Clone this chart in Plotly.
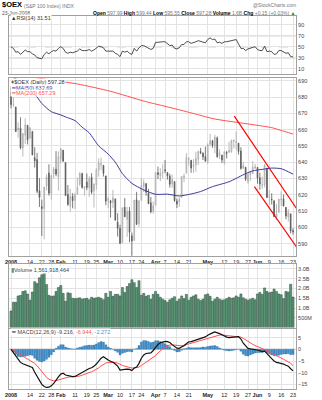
import plotly.graph_objects as go
import pandas as pd

FONT = "Liberation Sans, Arial, sans-serif"
W, H = 322, 400
L_PX, R_PX = 9, 296

# ---------------- data ----------------
holidays = ["2008-01-21", "2008-02-18", "2008-03-21", "2008-05-26"]
dates = [d.strftime("%Y-%m-%d") for d in pd.bdate_range("2008-01-02", "2008-06-23")
         if d.strftime("%Y-%m-%d") not in holidays]

tick_dates = ["2008-01-02", "2008-01-14", "2008-01-22", "2008-01-28", "2008-02-01", "2008-02-11",
              "2008-02-19", "2008-02-25", "2008-03-03", "2008-03-10", "2008-03-17", "2008-03-24",
              "2008-04-01", "2008-04-07", "2008-04-14", "2008-04-21", "2008-05-01", "2008-05-12",
              "2008-05-19", "2008-05-27", "2008-06-02", "2008-06-09", "2008-06-16", "2008-06-23"]
tick_text = ["<b>2008</b>", "14", "22", "28", "<b>Feb</b>", "11", "19", "25", "<b>Mar</b>", "10", "17", "24",
             "<b>Apr</b>", "7", "14", "21", "<b>May</b>", "12", "19", "27", "<b>Jun</b>", "9", "16", "23"]

open_ = [685.1, 675.3, 673.9, 659.9, 660.9, 648.7, 656.6, 662.7, 654.7, 658.9, 642.8, 641.6, 622.5, 612.7, 611.6, 625.4, 633.4, 621.0, 632.8, 635.7, 631.0,
         642.0, 647.4, 639.8, 620.2, 613.0, 619.0, 616.6, 620.7, 626.5, 633.0, 623.9, 627.8, 624.3, 630.7, 622.4, 626.3, 635.1, 638.4, 638.1, 631.6,
         616.7, 616.3, 615.4, 617.5, 603.2, 599.4, 590.7, 612.3, 605.0, 610.0, 594.8, 592.0, 616.9, 602.4, 616.6, 625.3, 626.9, 621.2, 615.1, 609.9,
         613.5, 633.6, 631.6, 633.6, 635.3, 633.7, 631.5, 626.7, 628.1, 616.1, 615.9, 618.4, 630.6, 633.2, 641.8, 641.2, 637.5, 638.5, 641.9, 646.6, 645.5, 643.4,
         640.3, 651.1, 653.2, 649.4, 654.9, 644.2, 644.4, 639.8, 646.0, 646.0, 646.5, 652.9, 652.1, 651.7, 646.9, 636.3, 636.9, 628.1, 632.2, 633.4, 636.3,
         636.8, 630.5, 625.8, 626.2, 636.4, 618.4, 617.4, 616.4, 606.6, 609.2, 616.8, 617.5, 612.3, 606.4, 608.3, 597.99]
high = [686.9, 679.9, 673.9, 664.5, 667.5, 657.7, 666.9, 662.7, 661.7, 658.9, 649.2, 645.7, 630.2, 617.0, 624.9, 632.5, 638.7, 631.9, 637.0, 646.8, 646.6,
        648.6, 647.4, 639.8, 626.0, 623.7, 621.0, 621.1, 630.6, 633.9, 633.5, 625.0, 633.1, 631.4, 633.3, 627.0, 636.3, 642.3, 642.8, 638.1, 631.6,
        618.8, 616.9, 623.0, 617.5, 608.7, 601.6, 612.1, 618.0, 612.6, 612.5, 596.8, 616.8, 621.8, 616.8, 630.2, 629.4, 626.9, 623.7, 618.7, 615.8,
        633.7, 637.3, 636.3, 638.7, 641.4, 633.7, 632.9, 632.3, 628.1, 617.7, 618.7, 631.5, 633.0, 645.6, 643.0, 641.2, 641.9, 646.4, 647.1, 648.8, 646.1, 649.6,
        651.5, 657.3, 653.7, 656.8, 655.8, 647.9, 644.4, 646.6, 646.9, 652.6, 653.8, 653.7, 658.9, 651.7, 649.2, 640.1, 636.9, 633.4, 634.3, 640.6, 639.0,
        636.8, 633.6, 631.2, 638.8, 636.4, 622.8, 620.9, 616.4, 614.4, 617.4, 622.1, 620.2, 612.3, 611.3, 608.3, 599.44]
low = [673.0, 673.8, 658.6, 655.0, 647.9, 643.5, 651.2, 650.9, 654.7, 644.3, 636.7, 621.0, 612.5, 594.7, 592.7, 622.7, 619.5, 617.1, 630.2, 631.4, 622.6,
       639.2, 640.2, 619.5, 613.2, 609.7, 611.7, 611.3, 620.1, 625.4, 623.8, 619.5, 622.8, 618.8, 620.4, 612.2, 623.2, 631.2, 635.2, 631.2, 613.6,
       611.8, 606.0, 611.9, 604.1, 594.4, 589.9, 590.7, 606.2, 594.2, 590.9, 582.6, 592.0, 601.8, 600.3, 616.6, 621.6, 619.4, 614.5, 608.6, 608.5,
       613.5, 629.7, 628.4, 630.3, 633.2, 629.3, 624.4, 624.4, 615.7, 611.9, 612.5, 618.4, 627.8, 633.2, 637.9, 633.5, 633.5, 634.1, 638.2, 644.9, 641.3, 640.2,
       639.0, 649.7, 648.8, 645.5, 642.7, 641.9, 639.5, 638.4, 642.3, 646.0, 645.8, 648.5, 647.6, 644.7, 635.4, 636.0, 628.5, 626.8, 628.5, 632.5, 636.1,
       626.8, 623.1, 623.7, 624.5, 618.1, 613.7, 614.0, 606.6, 604.5, 609.1, 613.1, 612.9, 605.0, 603.5, 596.3, 595.55]
close = [675.4, 675.4, 658.8, 660.9, 648.8, 657.6, 662.8, 653.8, 661.0, 644.5, 640.9, 622.2, 618.5, 611.6, 624.7, 631.0, 621.0, 631.9, 635.8, 632.7, 643.4,
         648.3, 640.7, 619.5, 614.2, 619.0, 616.4, 620.0, 624.5, 633.0, 624.5, 625.0, 624.5, 629.7, 621.6, 626.5, 635.1, 639.5, 638.9, 633.2, 616.1,
         617.1, 615.0, 618.2, 604.5, 599.5, 590.2, 612.1, 606.6, 609.7, 597.0, 591.7, 616.8, 601.8, 616.2, 625.7, 627.1, 621.6, 614.5, 609.6, 613.1,
         633.7, 632.5, 633.3, 633.8, 634.8, 631.5, 626.5, 629.3, 616.4, 614.3, 617.2, 631.2, 631.6, 643.0, 642.0, 636.4, 638.2, 642.3, 646.5, 645.8, 643.3, 640.8,
         651.1, 653.2, 650.3, 655.3, 643.4, 645.7, 641.4, 646.4, 645.4, 647.3, 653.4, 653.5, 652.7, 646.6, 636.2, 637.9, 629.5, 632.4, 634.2, 636.9, 637.2,
         630.4, 626.6, 626.2, 638.3, 618.4, 618.8, 617.1, 606.6, 608.4, 617.4, 617.4, 613.1, 607.0, 609.1, 597.8, 597.28]

ma50_day = [0, 3, 6, 9, 11, 13, 17, 21, 23, 27, 30, 33, 37, 41, 44, 47, 51, 56, 61, 66, 71, 76, 80, 85, 92, 99, 102, 106, 110, 114, 119]
ma50_val = [692.5, 690.5, 687.5, 683.5, 680.0, 676.0, 671.0, 669.0, 667.8, 665.5, 661.5, 658.0, 650.0, 645.0, 640.0, 633.0, 627.0, 623.0,
            620.3, 620.4, 619.3, 620.5, 622.0, 625.0, 628.0, 633.0, 634.7, 635.6, 636.4, 636.0, 632.69]
ma200_day = [0, 12, 28, 42, 56, 63, 70, 78, 86, 96, 106, 110, 114, 119]
ma200_val = [694.5, 691.5, 688.0, 683.5, 677.5, 675.0, 672.5, 669.5, 666.5, 664.3, 662.2, 661.2, 659.5, 657.29]

trend_upper_day = [94.2, 121.2]
trend_upper_val = [668.3, 610.0]
trend_lower_day = [102.7, 121.2]
trend_lower_val = [625.0, 586.5]

rsi = [50, 47, 40, 41, 36, 41, 44, 41, 41, 37, 35, 30, 29, 28, 36, 40, 37, 41, 43, 42, 47,
       50, 47, 40, 38, 40, 39, 41, 42, 46, 43, 43, 43, 45, 42, 44, 48, 51, 50, 48, 42,
       42, 41, 42, 38, 36, 32, 42, 40, 42, 38, 36, 47, 42, 48, 52, 52, 50, 47, 45, 47,
       58, 58, 59, 59, 59, 56, 52, 53, 47, 46, 48, 54, 54, 59, 59, 56, 57, 59, 61, 60, 59, 57,
       63, 66, 63, 64, 57, 58, 56, 59, 59, 60, 62, 63, 63, 55, 47, 47, 43, 46, 47, 49, 50,
       45, 43, 43, 51, 41, 42, 41, 36, 37, 43, 43, 41, 38, 39, 32, 31.51]
rsi_levels = [30, 50, 70]

volume_b = [0.85, 1.30, 1.30, 1.62, 1.65, 1.85, 1.88, 1.72, 1.40, 1.82, 2.35, 2.25, 2.55, 2.70, 2.82, 2.20, 1.65, 1.60, 1.62, 1.85, 2.05,
            2.15, 1.75, 1.35, 1.78, 1.75, 1.50, 1.48, 1.50, 1.52, 1.45, 1.48, 1.50, 1.42, 1.55, 1.50, 1.52, 1.55, 1.50, 1.42, 1.75,
            1.55, 1.85, 1.60, 1.70, 1.70, 1.62, 2.05, 1.80, 2.10, 2.25, 2.45, 2.30, 2.05, 2.40, 1.65, 1.75, 1.60, 1.65, 1.45, 1.70,
            1.85, 1.70, 1.55, 1.45, 1.38, 1.30, 1.42, 1.50, 1.58, 1.35, 1.45, 1.62, 1.48, 1.70, 1.40, 1.55, 1.62, 1.68, 1.45, 1.38, 1.45, 1.68,
            1.72, 1.60, 1.35, 1.45, 1.55, 1.45, 1.40, 1.42, 1.48, 1.55, 1.50, 1.52, 1.62, 1.55, 1.72, 1.52, 1.45, 1.40, 1.45, 1.50, 1.42,
            1.72, 1.80, 1.70, 2.03, 1.85, 1.78, 1.82, 1.97, 1.85, 1.72, 1.68, 1.48, 1.85, 1.82, 2.22, 1.56]
vol_ticks = [0.5, 1.0, 1.5, 2.0, 2.5, 3.0]
vol_tick_text = ["500M", "1.0B", "1.5B", "2.0B", "2.5B", "3.0B"]

macd = [0.0, -1.4, -3.0, -4.6, -5.6, -6.2, -6.6, -6.9, -7.1, -7.8, -9.8, -11.7, -13.4, -15.0, -15.9, -16.3, -16.2, -15.6, -14.6, -13.0, -11.8,
        -10.6, -10.2, -11.0, -11.3, -11.5, -11.7, -11.6, -11.0, -10.5, -10.0, -9.3, -8.8, -8.2, -7.9, -7.3, -6.3, -5.0, -3.8, -3.2, -4.0,
        -4.6, -5.1, -5.5, -6.3, -7.2, -8.9, -8.6, -8.6, -8.5, -8.6, -9.1, -8.0, -7.6, -6.0, -3.8, -2.4, -1.8, -1.6, -1.5, -0.5,
        1.0, 2.1, 2.8, 3.2, 3.4, 3.3, 2.9, 2.0, 1.3, 0.5, 0.4, 0.9, 1.6, 2.4, 3.2, 3.3, 3.6, 3.9, 4.2, 4.6, 5.1, 5.3,
        6.0, 6.6, 7.0, 7.4, 7.2, 6.7, 6.2, 5.6, 5.2, 5.0, 5.0, 5.1, 5.3, 5.4, 4.4, 2.6, 1.3, 0.4, 0.2, 0.1, 0.0,
        -0.3, -0.6, -1.0, -0.8, -2.0, -2.9, -4.0, -5.0, -5.6, -5.8, -6.0, -6.3, -6.8, -7.2, -8.3, -9.216]
signal = [0.0, -0.3, -0.8, -1.5, -2.3, -3.0, -3.6, -4.2, -4.7, -5.2, -6.0, -7.0, -8.2, -9.6, -10.9, -12.0, -12.8, -13.3, -13.5, -13.4, -13.1,
          -12.6, -12.2, -12.0, -11.9, -11.8, -11.8, -11.7, -11.6, -11.4, -11.1, -10.8, -10.4, -10.0, -9.6, -9.1, -8.6, -7.9, -7.1, -6.3, -5.9,
          -5.6, -5.5, -5.5, -5.6, -5.9, -6.5, -6.9, -7.2, -7.5, -7.7, -8.0, -8.0, -7.9, -7.6, -6.9, -6.2, -5.5, -4.9, -4.4, -3.6,
          -2.7, -1.6, -0.5, 0.3, 1.0, 1.5, 1.8, 1.9, 1.8, 1.6, 1.4, 1.3, 1.4, 2.0, 2.3, 2.6, 2.9, 3.2, 3.5, 3.8, 4.1, 4.4,
          4.8, 5.2, 5.5, 5.8, 6.0, 6.1, 6.1, 6.0, 5.8, 5.7, 5.6, 5.5, 5.5, 5.4, 5.2, 4.7, 4.0, 3.3, 2.6, 2.1, 1.6,
          1.2, 0.8, 0.4, 0.0, -0.5, -1.0, -1.6, -2.2, -2.8, -3.3, -3.8, -4.3, -4.8, -5.3, -6.0, -6.944]
hist = [0.0, -1.1, -2.2, -3.1, -3.3, -3.2, -3.0, -2.7, -2.4, -2.6, -3.8, -4.7, -5.2, -5.4, -5.0, -4.3, -3.4, -2.3, -1.1, 0.4, 1.3,
        2.0, 2.0, 1.0, 0.6, 0.3, 0.1, 0.1, 0.6, 0.9, 1.1, 1.5, 1.6, 1.8, 1.7, 1.8, 2.3, 2.9, 3.3, 3.1, 1.9,
        1.0, 0.4, 0.0, -0.7, -1.3, -2.4, -1.7, -1.4, -1.0, -0.9, -1.1, 0.0, 0.3, 1.6, 3.1, 3.8, 3.7, 3.3, 2.9, 3.1,
        3.7, 3.7, 3.3, 2.9, 2.4, 1.8, 1.1, 0.1, -0.5, -1.1, -1.0, -0.4, 0.2, 0.4, 0.9, 0.7, 0.7, 0.7, 0.7, 0.8, 1.0, 0.9,
        1.2, 1.4, 1.5, 1.6, 1.2, 0.6, 0.1, -0.4, -0.6, -0.7, -0.6, -0.4, -0.2, 0.0, -0.8, -2.1, -2.7, -2.9, -2.4, -2.0, -1.6,
        -1.5, -1.4, -1.4, -0.8, -1.5, -1.9, -2.4, -2.8, -2.8, -2.5, -2.2, -2.0, -2.0, -1.9, -2.3, -2.272]

# ---------------- figure ----------------
xi = list(range(len(dates)))
tick_pos = [dates.index(d) for d in tick_dates]


def fy(px):
    return 1 - px / H


def ax(px):
    return (px - L_PX) / (R_PX - L_PX)


fig = go.Figure()
fig.add_trace(go.Scatter(x=xi, y=rsi, xaxis="x", yaxis="y", mode="lines",
                         line=dict(color="#3a3a3a", width=0.9), hoverinfo="skip"))
fig.add_trace(go.Candlestick(x=xi, open=open_, high=high, low=low, close=close, xaxis="x2", yaxis="y2",
                             increasing=dict(line=dict(color="#a8a8a8", width=0.8), fillcolor="#f2f2f2"),
                             decreasing=dict(line=dict(color="#5a5a5a", width=0.8), fillcolor="#5a5a5a"),
                             whiskerwidth=0))
fig.add_trace(go.Scatter(x=ma200_day, y=ma200_val, xaxis="x2", yaxis="y2", mode="lines",
                         line=dict(color="#ff5050", width=1, shape="spline", smoothing=0.6)))
fig.add_trace(go.Scatter(x=ma50_day, y=ma50_val, xaxis="x2", yaxis="y2", mode="lines",
                         line=dict(color="#3b3b9b", width=1, shape="spline", smoothing=0.6)))
fig.add_trace(go.Scatter(x=trend_upper_day, y=trend_upper_val, xaxis="x2", yaxis="y2", mode="lines",
                         line=dict(color="#ff0000", width=1.2)))
fig.add_trace(go.Scatter(x=trend_lower_day, y=trend_lower_val, xaxis="x2", yaxis="y2", mode="lines",
                         line=dict(color="#ff0000", width=1.2)))
fig.add_trace(go.Bar(x=xi, y=volume_b, xaxis="x3", yaxis="y3",
                     marker=dict(color="#5b9878", line=dict(color="#2e4d3d", width=0.5))))
fig.add_trace(go.Bar(x=xi, y=hist, xaxis="x4", yaxis="y4",
                     marker=dict(color="#3f8cc8", line=dict(color="#2f6f9f", width=0.3))))
fig.add_trace(go.Scatter(x=xi, y=signal, xaxis="x4", yaxis="y4", mode="lines",
                         line=dict(color="#ff5050", width=1)))
fig.add_trace(go.Scatter(x=xi, y=macd, xaxis="x4", yaxis="y4", mode="lines",
                         line=dict(color="#111111", width=1.2)))

GRID = "#e3e3e3"
FRAME = "#a0a0a0"
xcommon = dict(range=[-0.85, 120.25], tickvals=tick_pos, ticktext=tick_text, tickangle=0, showgrid=True,
               gridcolor=GRID, gridwidth=1, zeroline=False, showline=True, linecolor=FRAME, linewidth=1,
               mirror=True, ticks="", tickfont=dict(size=5.5, color="#222", family=FONT),
               automargin=False, fixedrange=True)
ycommon = dict(side="right", showgrid=True, gridcolor=GRID, gridwidth=1, zeroline=False, showline=True,
               linecolor=FRAME, linewidth=1, mirror=True, ticks="", automargin=False, fixedrange=True,
               tickfont=dict(size=5.5, color="#444", family=FONT))

layout = dict(
    width=W, height=H, margin=dict(l=L_PX, r=W - R_PX, t=0, b=0, pad=0),
    paper_bgcolor="white", plot_bgcolor="white", showlegend=False, template="none",
    bargap=0.12, boxgap=0.55, font=dict(family=FONT, size=6, color="#333"),
    xaxis=dict(xcommon, anchor="y", showticklabels=False),
    xaxis2=dict(xcommon, anchor="y2", showticklabels=True, rangeslider=dict(visible=False)),
    xaxis3=dict(xcommon, anchor="y3", showticklabels=False),
    xaxis4=dict(xcommon, anchor="y4", showticklabels=True),
    yaxis=dict(ycommon, anchor="x", domain=[fy(74), fy(16)], range=[0.4, 105.8], tickvals=[10, 30, 50, 70, 90]),
    yaxis2=dict(ycommon, anchor="x2", domain=[fy(256), fy(78)], range=[582.45, 691.66],
                tickvals=[590, 600, 610, 620, 630, 640, 650, 660, 670, 680, 690]),
    yaxis3=dict(ycommon, anchor="x3", domain=[fy(327.5), fy(264)], range=[0, 3.256],
                tickvals=vol_ticks, ticktext=vol_tick_text),
    yaxis4=dict(ycommon, anchor="x4", domain=[fy(389), fy(328.5)], range=[-16.96, 8.89],
                tickvals=[-15, -10, -5, 0, 5]),
)
fig.update_layout(**layout)

shapes = []
for lv in rsi_levels:
    shapes.append(dict(type="line", xref="x domain", x0=0, x1=1, yref="y", y0=lv, y1=lv,
                       line=dict(color="#8a8a8a", width=1, dash="dash" if lv == 50 else "solid"), layer="below"))
shapes.append(dict(type="line", xref="x4 domain", x0=0, x1=1, yref="y4", y0=0, y1=0,
                   line=dict(color="#9a9a9a", width=1), layer="below"))
fig.update_layout(shapes=shapes)

anns = []


def ann(text, px, py, size=6, color="#333", xanchor="left", bg=None):
    d = dict(text=text, x=ax(px), y=fy(py), xref="paper", yref="paper", showarrow=False,
             xanchor=xanchor, yanchor="middle", font=dict(size=size, color=color, family=FONT),
             borderpad=0)
    if bg:
        d["bgcolor"] = bg
    anns.append(d)


ann("<b>$OEX</b>", 1, 5, size=7.5, color="#000")
ann("(S&P 100 Index) INDX", 23, 5.5, size=5, color="#777")
ann("@StockCharts.com", 297, 5, size=5, color="#777", xanchor="right")
ann("23-Jun-2008", 1, 12.5, size=5, color="#555")
ann("<b>Open</b> <span style='color:#777'>597.99</span> <b>High</b> <span style='color:#777'>599.44</span> "
    "<b>Low</b> <span style='color:#777'>595.55</span> <b>Close</b> <span style='color:#777'>597.28</span> "
    "<b>Volume</b> <span style='color:#777'>1.6B</span> <b>Chg</b> <span style='color:#777'>+0.15 (+0.03%)</span> "
    "<span style='color:#2a8a2a'>▲</span>", 297, 12.5, size=5, color="#000", xanchor="right")
ann("▲RSI(14) 31.51", 10, 18, size=5.5, color="#333", bg="white")
ann("ǂ$OEX (Daily) 597.28", 10, 82, size=5.5, color="#333", bg="white")
ann("<span style='color:#3b3b9b'>━</span>MA(50) 632.69", 10, 87.5, size=5.5, color="#3b3b9b", bg="white")
ann("<span style='color:#ff5050'>━</span>MA(200) 657.29", 10, 93, size=5.5, color="#ff5050", bg="white")
ann("<span style='color:#5b9878'>▮</span>Volume 1,561,918,464", 10, 269.5, size=5.5, color="#444", bg="white")
ann("<span style='color:#111'>━</span> MACD(12,26,9) -9.216, <span style='color:#ff5050'>-6.944</span>, "
    "<span style='color:#3f8cc8'>-2.272</span>", 10, 332, size=5.5, color="#444", bg="white")
fig.update_layout(annotations=anns)

fig.write_html("out.html")
